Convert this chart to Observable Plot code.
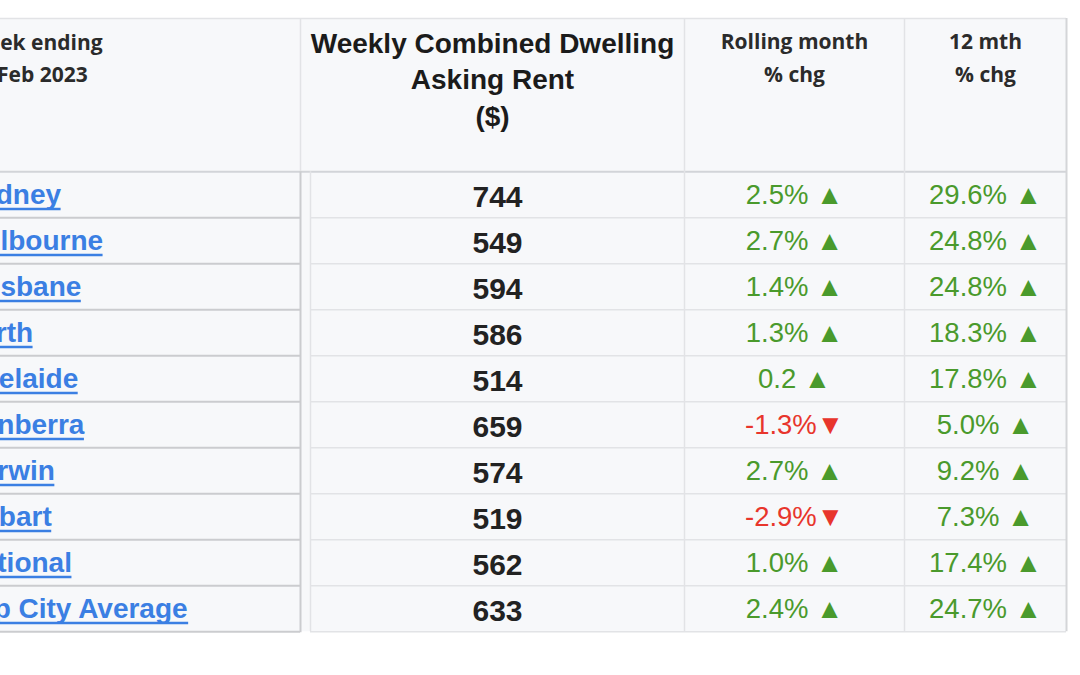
<!DOCTYPE html>
<html><head><meta charset="utf-8">
<script src="https://cdn.jsdelivr.net/npm/d3@7"></script>
<script src="https://cdn.jsdelivr.net/npm/@observablehq/plot@0.6"></script>
<style>
html,body{margin:0;padding:0;background:#fff;}
#chart{width:1080px;height:675px;overflow:hidden;}
</style></head><body><div id="chart"></div>
<script>
// ---- data ----
const cities = ["Sydney","Melbourne","Brisbane","Perth","Adelaide","Canberra","Darwin","Hobart","National","Top City Average"];
const weeklyRent = [744,549,594,586,514,659,574,519,562,633];
const rollingMonthChg = ["2.5%","2.7%","1.4%","1.3%","0.2","-1.3%","2.7%","-2.9%","1.0%","2.4%"];
const twelveMonthChg = ["29.6%","24.8%","24.8%","18.3%","17.8%","5.0%","9.2%","7.3%","17.4%","24.7%"];
const headerCity = "Week ending\n19 Feb 2023";
const headerRent = "Weekly Combined Dwelling\nAsking Rent\n($)";
const headerRolling = "Rolling month\n% chg";
const headerYearly = "12 mth\n% chg";

// ---- layout ----
const L = {
  tableTop: 18, headerBottom: 171.3, rowH: 46, tableBottom: 631.3,
  left: -40, col1: 300, col1b: 310, col2: 684, col3: 904, right: 1066,
  nameX: -39, rentX: 497, rentHeadX: 492, rollX: 794, yearX: 985,
  headSmallBase: 81, headRentBase: 125
};
const C = {
  bg: "#f7f8fa", light: "#e2e3e6", dark: "#cbcccf",
  link: "#3b7fe3", green: "#4a9a2c", red: "#e8352c",
  triUp: "#43a548", triDown: "#8e1b17", head: "#2b2b2b", rent: "#222222"
};
const nameFont = {family: "Liberation Sans", size: 28, weight: 700};

const ctx = document.createElement("canvas").getContext("2d");
ctx.font = `${nameFont.weight} ${nameFont.size}px '${nameFont.family}'`;

const rows = cities.map((city, i) => ({
  city, rent: weeklyRent[i], roll: rollingMonthChg[i], year: twelveMonthChg[i],
  top: L.headerBottom + i * L.rowH, bottom: L.headerBottom + (i + 1) * L.rowH,
  nameW: ctx.measureText(city).width
}));
const withArrow = v => parseFloat(v) < 0 ? v + "\u25BC" : v + " \u25B2";
const pctColor = v => parseFloat(v) < 0 ? C.red : C.green;

const box = [{x1: L.left, x2: L.right, y1: L.tableTop, y2: L.tableBottom}];
const fullV = [L.col2, L.col3].map(x => ({x, y1: L.tableTop, y2: L.tableBottom}));

const svg = Plot.plot({
  width: 1080, height: 675, margin: 0,
  x: {type: "linear", domain: [0, 1080], range: [0, 1080], axis: null},
  y: {type: "linear", domain: [0, 675], range: [0, 675], axis: null},
  style: {background: "#fff"},
  marks: [
    Plot.rect(box, {x1: "x1", x2: "x2", y1: "y1", y2: "y2", fill: C.bg}),
    // horizontal rules
    Plot.ruleY([{y: L.tableTop}], {y: "y", x1: () => L.left, x2: () => L.right, stroke: C.light, strokeWidth: 1.5}),
    Plot.ruleY(rows, {y: "bottom", x1: () => L.col1b, x2: () => L.right, stroke: C.light, strokeWidth: 1.5}),
    Plot.ruleY(rows, {y: "bottom", x1: () => L.left, x2: () => L.col1, stroke: C.dark, strokeWidth: 2}),
    Plot.ruleY([{y: L.headerBottom}], {y: "y", x1: () => L.left, x2: () => L.right, stroke: "#d2d4d8", strokeWidth: 2}),
    // vertical rules
    Plot.ruleX(fullV, {x: "x", y1: "y1", y2: "y2", stroke: C.light, strokeWidth: 1.5}),
    Plot.ruleX([{x: L.col1}], {x: "x", y1: () => L.tableTop, y2: () => L.headerBottom, stroke: C.light, strokeWidth: 1.5}),
    Plot.ruleX([{x: L.col1}], {x: "x", y1: () => L.headerBottom, y2: () => L.tableBottom + 1, stroke: C.dark, strokeWidth: 2}),
    Plot.ruleX([{x: L.col1b}], {x: "x", y1: () => L.headerBottom, y2: () => L.tableBottom, stroke: C.light, strokeWidth: 1.5}),
    Plot.ruleX([{x: L.right}], {x: "x", y1: () => L.tableTop, y2: () => L.tableBottom, stroke: "#d4d5d8", strokeWidth: 2}),
    // header texts
    Plot.text([headerCity], {x: () => L.nameX + 6, y: () => L.headSmallBase, text: d => d, textAnchor: "start", lineAnchor: "bottom",
      lineHeight: 32 / 21, fontFamily: "Open Sans", fontWeight: 700, fontSize: 21, fill: C.head}),
    Plot.text([headerRent], {x: () => L.rentHeadX, y: () => L.headRentBase, text: d => d, textAnchor: "middle", lineAnchor: "bottom",
      lineHeight: 36.5 / 28, fontFamily: "Liberation Sans", fontWeight: 700, fontSize: 28, fill: "#1b1b1b"}),
    Plot.text([headerRolling], {x: () => L.rollX, y: () => L.headSmallBase, text: d => d, textAnchor: "middle", lineAnchor: "bottom",
      lineHeight: 33 / 21, fontFamily: "Open Sans", fontWeight: 700, fontSize: 21, fill: C.head}),
    Plot.text([headerYearly], {x: () => L.yearX, y: () => L.headSmallBase, text: d => d, textAnchor: "middle", lineAnchor: "bottom",
      lineHeight: 33 / 21, fontFamily: "Open Sans", fontWeight: 700, fontSize: 21, fill: C.head}),
    // body: city links with underline
    Plot.text(rows, {x: () => L.nameX, y: d => d.top + 32, text: "city", textAnchor: "start", lineAnchor: "bottom",
      fontFamily: nameFont.family, fontWeight: nameFont.weight, fontSize: nameFont.size, fill: C.link}),
    Plot.ruleY(rows, {y: d => d.top + 37.2, x1: () => L.nameX, x2: d => L.nameX + d.nameW, stroke: C.link, strokeWidth: 2.7}),
    Plot.text(rows, {x: () => L.rentX, y: d => d.top + 35.5, text: d => String(d.rent), textAnchor: "middle", lineAnchor: "bottom",
      fontFamily: "Liberation Sans", fontWeight: 700, fontSize: 30, fill: C.rent}),
    Plot.text(rows, {ariaLabel: "pct", x: () => L.rollX, y: d => d.top + 32, text: d => withArrow(d.roll), textAnchor: "middle", lineAnchor: "bottom",
      fontFamily: "Liberation Sans", fontSize: 27.5, fill: d => pctColor(d.roll)}),
    Plot.text(rows, {ariaLabel: "pct", x: () => L.yearX, y: d => d.top + 32, text: d => withArrow(d.year), textAnchor: "middle", lineAnchor: "bottom",
      fontFamily: "Liberation Sans", fontSize: 27.5, fill: d => pctColor(d.year)})
  ]
});

const sel = d3.select(svg);
sel.selectAll('g[aria-label="pct"] text').each(function () {
  const s = this.textContent;
  const tri = s.slice(-1);
  this.textContent = s.slice(0, -1);
  d3.select(this).append("tspan")
    .attr("fill", tri === "\u25B2" ? C.triUp : C.triDown)
    .style("fill", tri === "\u25B2" ? C.triUp : C.triDown)
    .attr("font-size", 17)
    .text(tri);
});
document.getElementById("chart").appendChild(svg);
</script>
</body></html>
